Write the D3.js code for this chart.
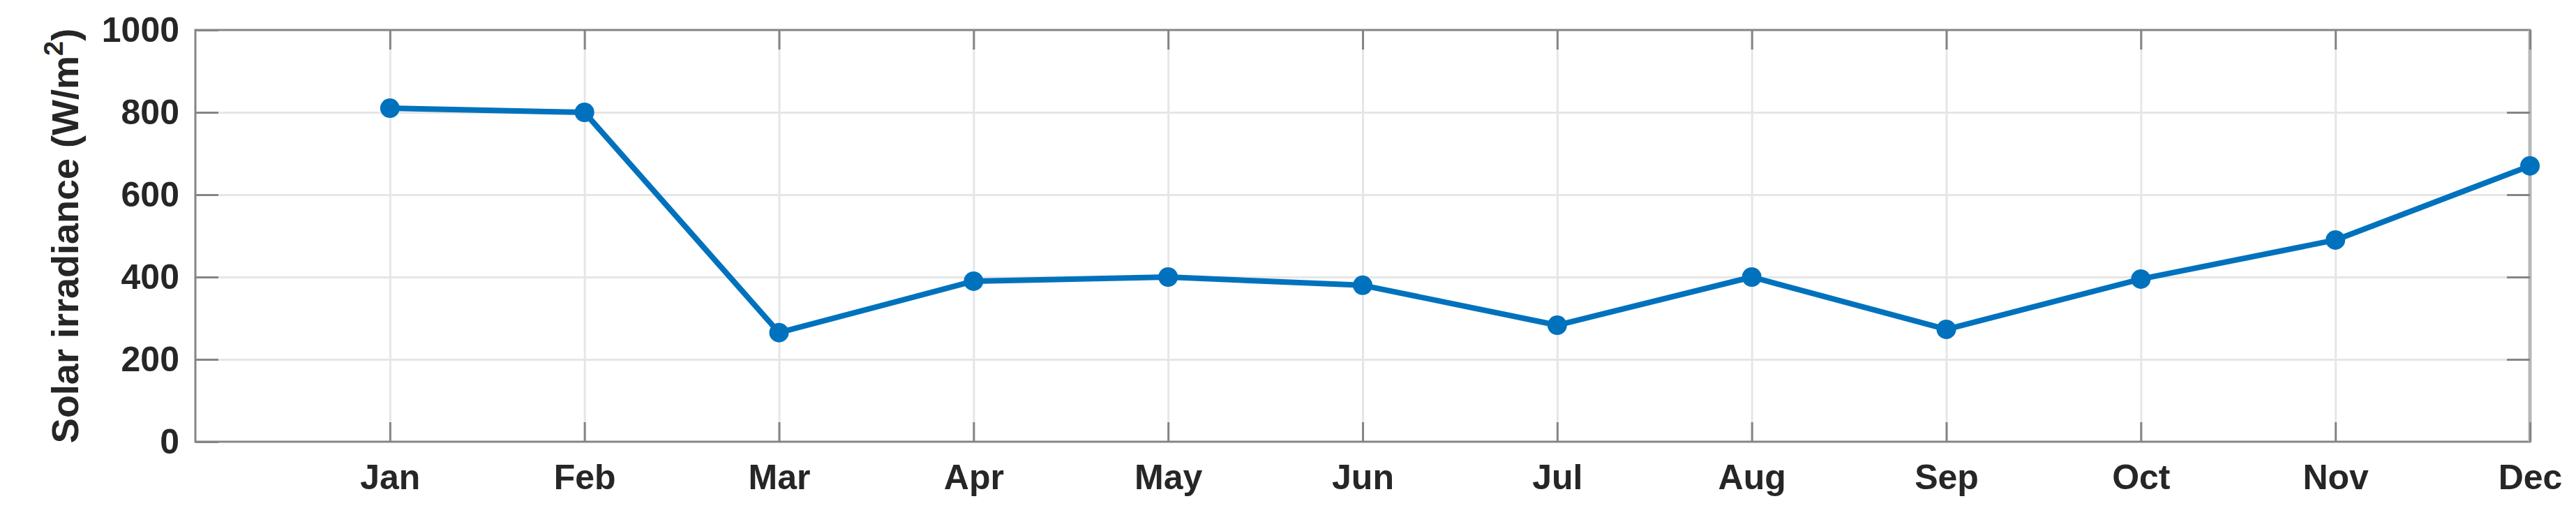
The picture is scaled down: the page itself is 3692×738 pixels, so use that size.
<!DOCTYPE html>
<html>
<head>
  <meta charset="utf-8">
  <script src="https://d3js.org/d3.v7.min.js"></script>
  <style>
    body { margin: 0; background: #fff; }
    text { font-family: "Liberation Sans", Arial, Helvetica, sans-serif; font-weight: bold; fill: #262626; }
  </style>
</head>
<body>
<svg id="chart"></svg>
<script>
  var width = 3692;
  var height = 738;

  // data
  const months = ["Jan", "Feb", "Mar", "Apr", "May", "Jun", "Jul", "Aug", "Sep", "Oct", "Nov", "Dec"];
  const irradiance = [810, 800, 265, 390, 400, 380, 283, 400, 273, 395, 490, 670];
  const yTicks = [0, 200, 400, 600, 800, 1000];

  const plot = { left: 280, right: 3626, top: 43, bottom: 633 };

  var svg = d3.select("#chart")
    .attr("width", width)
    .attr("height", height);

  var x = d3.scaleLinear()
    .domain([0, 12])
    .range([plot.left, plot.right]);

  var y = d3.scaleLinear()
    .domain([0, 1000])
    .range([plot.bottom, plot.top]);

  var monthIdx = months.map((m, i) => i + 1);

  // grid lines
  svg.append("g")
    .attr("class", "grid")
    .attr("transform", "translate(0," + plot.bottom + ")")
    .call(d3.axisBottom(x).tickValues(monthIdx).tickSize(-(plot.bottom - plot.top)).tickFormat(""))
    .call(g => g.select(".domain").remove());

  svg.append("g")
    .attr("class", "grid")
    .attr("transform", "translate(" + plot.left + ",0)")
    .call(d3.axisLeft(y).tickValues(yTicks.slice(1, -1)).tickSize(-(plot.right - plot.left)).tickFormat(""))
    .call(g => g.select(".domain").remove());

  svg.selectAll(".grid line")
    .attr("stroke", "#e6e6e6")
    .attr("stroke-width", 3);

  // box
  svg.append("rect")
    .attr("x", plot.left)
    .attr("y", plot.top)
    .attr("width", plot.right - plot.left)
    .attr("height", plot.bottom - plot.top)
    .attr("fill", "none")
    .attr("stroke", "#858585")
    .attr("stroke-width", 3);

  svg.append("line")
    .attr("x1", plot.right).attr("x2", plot.right)
    .attr("y1", plot.top).attr("y2", plot.bottom)
    .attr("stroke", "#b8b8b8")
    .attr("stroke-width", 5);

  // axes with inward ticks
  var xAxis = svg.append("g")
    .attr("transform", "translate(0," + plot.bottom + ")")
    .call(d3.axisBottom(x).tickValues(monthIdx).tickSize(-28).tickPadding(68).tickFormat(d => months[d - 1]));

  var xAxisTop = svg.append("g")
    .attr("transform", "translate(0," + plot.top + ")")
    .call(d3.axisTop(x).tickValues(monthIdx).tickSize(-28).tickFormat(""));

  var yAxis = svg.append("g")
    .attr("transform", "translate(" + plot.left + ",0)")
    .call(d3.axisLeft(y).tickValues(yTicks).tickSize(-33).tickPadding(23).tickFormat(d3.format("d")));

  var yAxisRight = svg.append("g")
    .attr("transform", "translate(" + plot.right + ",0)")
    .call(d3.axisRight(y).tickValues(yTicks.slice(1, -1)).tickSize(-33).tickFormat(""));

  [xAxis, xAxisTop, yAxis, yAxisRight].forEach(a => {
    a.select(".domain").remove();
    a.selectAll("line").attr("stroke", "#858585").attr("stroke-width", 3);
    a.selectAll("text")
      .style("font-size", "50px")
      .attr("fill", "#262626");
  });

  xAxis.selectAll("text").attr("dy", "0");

  // y label
  var ylab = svg.append("text")
    .attr("transform", "rotate(-90)")
    .attr("x", -(plot.top + plot.bottom) / 2)
    .attr("y", 112)
    .attr("text-anchor", "middle")
    .style("font-size", "54px");
  ylab.append("tspan").text("Solar irradiance (W/m");
  ylab.append("tspan").text("2").style("font-size", "38px").attr("dy", -22);
  ylab.append("tspan").text(")").attr("dy", 22);

  // line and markers
  var line = d3.line()
    .x((d, i) => x(i + 1))
    .y(d => y(d));

  svg.append("path")
    .datum(irradiance)
    .attr("fill", "none")
    .attr("stroke", "#0072BD")
    .attr("stroke-width", 8)
    .attr("stroke-linejoin", "round")
    .attr("d", line);

  svg.selectAll(".pt")
    .data(irradiance)
    .enter()
    .append("circle")
    .attr("class", "pt")
    .attr("cx", (d, i) => x(i + 1))
    .attr("cy", d => y(d))
    .attr("r", 14)
    .attr("fill", "#0072BD");
</script>
</body>
</html>
